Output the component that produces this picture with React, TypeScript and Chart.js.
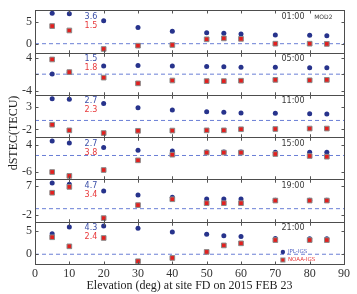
import React, { useEffect, useRef } from "react";
import { Chart, registerables } from "chart.js";

Chart.register(...registerables);

const elevations = [5, 10, 20, 30, 40, 50, 55, 60, 70, 80, 85];
const panelTimes = ["01:00", "05:00", "11:00", "15:00", "19:00", "21:00"];

const jpl0100 = [6.9, 6.8, 5.2, 3.7, 2.8, 2.5, 2.35, 2.2, 2.0, 1.9, 1.8];
const noaa0100 = [4.0, 3.0, -1.2, -0.45, -0.3, 1.0, 1.2, 1.1, 0.0, 0.0, -0.05];
const jpl0500 = [0.05, 0.45, 2.0, 2.1, 2.0, 1.85, 1.8, 1.7, 1.7, 1.55, 1.55];
const noaa0500 = [3.6, 0.5, -0.85, -2.25, -1.55, -1.7, -1.7, -1.6, -1.4, -1.5, -1.4];
const jpl1100 = [4.8, 4.7, 3.75, 2.8, 2.3, 1.95, 1.8, 1.65, 1.6, 1.5, 1.45];
const noaa1100 = [-0.95, -2.2, -2.8, -2.3, -2.25, -2.2, -2.2, -1.95, -1.9, -1.8, -1.8];
const jpl1500 = [5.4, 4.65, 2.95, 2.0, 1.65, 1.3, 1.3, 1.3, 1.25, 1.25, 1.25];
const noaa1500 = [-6.15, -7.6, -5.4, -1.8, 0.3, 1.1, 1.1, 1.1, 0.55, -0.2, -0.45];
const jpl1900 = [7.9, 7.5, 5.4, 4.2, 3.5, 3.0, 3.0, 3.0, 2.6, 2.6, 2.6];
const noaa1900 = [4.9, 6.7, -2.9, 1.1, 2.9, 1.7, 1.7, 1.7, 2.5, 2.5, 2.5];
const jpl2100 = [4.4, 5.85, 6.1, 5.6, 4.8, 4.3, 4.0, 3.8, 3.4, 3.35, 3.35];
const noaa2100 = [3.65, 1.7, 3.5, -1.5, -0.8, 0.5, 1.9, 2.35, 3.05, 3.05, 3.05];

const jplSeries = [jpl0100, jpl0500, jpl1100, jpl1500, jpl1900, jpl2100];
const noaaSeries = [noaa0100, noaa0500, noaa1100, noaa1500, noaa1900, noaa2100];

const jplLabels = ["3.6", "1.5", "2.7", "2.7", "4.7", "4.3"];
const noaaLabels = ["1.5", "1.8", "2.3", "3.8", "3.4", "2.4"];

const yMins = [-2.0, -5.05, -3.7, -8.9, -4.0, -2.1];
const yMaxs = [7.6, 5.3, 5.7, 6.85, 9.0, 7.0];
const yTickSets = [[0, 5], [-4, 0, 4], [-2, 3], [-6, 4], [-2, 7], [0, 5]];

const xTicks = [0, 10, 20, 30, 40, 50, 60, 70, 80, 90];
const zeroLine = [0, 90];

const BLUE = "#27338c";
const RED = "#e3201f";
const SERIF = "'Liberation Serif', 'Times New Roman', serif";
const SANS = "'DejaVu Sans', sans-serif";

const ids = panelTimes.map((_, i) => "y" + i);

const decorPlugin = {
  id: "decor",
  afterDraw(chart: any) {
    const ctx = chart.ctx;
    const xs = chart.scales.x;
    const ca = chart.chartArea;
    ctx.save();
    ids.forEach((id, i) => {
      const ys = chart.scales[id];
      const top = Math.round(ys.top) + 0.5;
      const bottom = Math.round(ys.bottom) + 0.5;
      const left = Math.round(ca.left) + 0.5;
      const right = Math.round(ca.right) + 0.5;
      ctx.strokeStyle = "#4d4d4d";
      ctx.lineWidth = 1;
      ctx.strokeRect(left, top, right - left, bottom - top);
      // x tick marks
      ctx.strokeStyle = "#555";
      ctx.beginPath();
      xTicks.forEach((v) => {
        const px = Math.round(xs.getPixelForValue(v)) + 0.5;
        if (v === 0 || v === 90) return;
        ctx.moveTo(px, top - (i === 0 ? 0 : 3));
        ctx.lineTo(px, top + 3);
        ctx.moveTo(px, bottom - 3);
        ctx.lineTo(px, bottom + (i === ids.length - 1 ? 0 : 3));
      });
      yTickSets[i].forEach((v) => {
        const py = Math.round(ys.getPixelForValue(v)) + 0.5;
        ctx.moveTo(left, py);
        ctx.lineTo(left + 3, py);
        ctx.moveTo(right, py);
        ctx.lineTo(right - 3, py);
      });
      ctx.stroke();

      // value labels
      const lx = xs.getPixelForValue(16.3);
      ctx.font = "8px " + SANS;
      ctx.textAlign = "center";
      ctx.textBaseline = "middle";
      ctx.fillStyle = "#3b4fa8";
      ctx.fillText(jplLabels[i], lx, ys.top + 6.5);
      ctx.fillStyle = "#e8383a";
      ctx.fillText(noaaLabels[i], lx, ys.top + 15.5);

      // time labels
      ctx.fillStyle = "#3a3a3a";
      ctx.font = "8px " + SANS;
      ctx.textAlign = "right";
      ctx.fillText(panelTimes[i], xs.getPixelForValue(78.5), ys.top + 6.5);
      if (i === 0) {
        ctx.font = "6px " + SANS;
        ctx.textAlign = "left";
        ctx.fillText("MOD2", xs.getPixelForValue(81.3), ys.top + 7);
      }
    });

    // legend in last panel
    const lastY = chart.scales[ids[ids.length - 1]];
    const mx = xs.getPixelForValue(72.2);
    const r1 = lastY.bottom - 12;
    const r2 = lastY.bottom - 4;
    ctx.fillStyle = BLUE;
    ctx.beginPath();
    ctx.arc(mx, r1, 2.2, 0, Math.PI * 2);
    ctx.fill();
    ctx.fillStyle = RED;
    ctx.fillRect(mx - 2, r2 - 2, 4, 4);
    ctx.strokeStyle = "#888";
    ctx.strokeRect(mx - 2, r2 - 2, 4, 4);
    ctx.font = "5.5px " + SANS;
    ctx.textAlign = "left";
    ctx.textBaseline = "middle";
    ctx.fillStyle = "#5566c4";
    ctx.fillText("JPL-IGS", mx + 5, r1);
    ctx.fillStyle = "#e8383a";
    ctx.fillText("NOAA-IGS", mx + 5, r2);

    // y title
    ctx.translate(14, 133);
    ctx.rotate(-Math.PI / 2);
    ctx.font = "12px " + SERIF;
    ctx.fillStyle = "#222";
    ctx.textAlign = "center";
    ctx.textBaseline = "middle";
    ctx.fillText("dSTEC(TECU)", 0, 0);
    ctx.restore();
  },
};

export default function App() {
  const ref = useRef<HTMLCanvasElement | null>(null);
  useEffect(() => {
    if (!ref.current) return;
    const datasets: any[] = [];
    const scales: any = {
      x: {
        type: "linear",
        min: 0,
        max: 90,
        afterBuildTicks: (s: any) => {
          s.ticks = xTicks.map((v) => ({ value: v }));
        },
        afterFit: (s: any) => {
          s.height = 30;
        },
        grid: { display: false, drawTicks: false },
        border: { display: false },
        ticks: {
          padding: 3,
          color: "#333",
          font: { family: SERIF, size: 12 },
        },
        title: {
          display: true,
          text: "Elevation (deg) at site FD on 2015 FEB 23",
          color: "#222",
          font: { family: SERIF, size: 12 },
          padding: { top: 0, bottom: 1 },
        },
      },
    };
    ids.forEach((id, i) => {
      scales[id] = {
        type: "linear",
        position: "left",
        stack: "panels",
        stackWeight: 1,
        weight: ids.length - i,
        min: yMins[i],
        max: yMaxs[i],
        afterBuildTicks: (s: any) => {
          s.ticks = yTickSets[i].map((v) => ({ value: v }));
        },
        afterFit: (s: any) => {
          s.width = 35;
        },
        grid: { display: false, drawTicks: false },
        border: { display: false },
        ticks: {
          padding: 3,
          color: "#333",
          font: { family: SERIF, size: 12 },
        },
      };
      datasets.push({
        label: "NOAA-IGS " + panelTimes[i],
        data: elevations.map((x, k) => ({ x, y: noaaSeries[i][k] })),
        yAxisID: id,
        pointStyle: "rect",
        pointRadius: 3.3,
        backgroundColor: RED,
        borderColor: "#8a8a8a",
        borderWidth: 1,
        order: 0,
      });
      datasets.push({
        label: "JPL-IGS " + panelTimes[i],
        data: elevations.map((x, k) => ({ x, y: jplSeries[i][k] })),
        yAxisID: id,
        pointStyle: "circle",
        pointRadius: 2.5,
        backgroundColor: BLUE,
        borderColor: BLUE,
        borderWidth: 0,
        order: 1,
      });
      datasets.push({
        label: "zero " + panelTimes[i],
        data: zeroLine.map((x) => ({ x, y: 0 })),
        yAxisID: id,
        showLine: true,
        pointRadius: 0,
        borderColor: "#6a7fd6",
        borderWidth: 1,
        borderDash: [4, 3],
        order: 2,
      });
    });

    const chart = new Chart(ref.current, {
      type: "scatter",
      data: { datasets },
      options: {
        animation: false,
        responsive: false,
        devicePixelRatio: 1,
        events: [],
        layout: { padding: { top: 5, right: 13, left: 0, bottom: 0 } },
        plugins: { legend: { display: false }, tooltip: { enabled: false } },
        scales,
      },
      plugins: [decorPlugin],
    } as any);
    return () => chart.destroy();
  }, []);
  return (
    <div style={{ position: "fixed", left: 0, top: 0, width: 357, height: 294, background: "#fff" }}>
      <canvas ref={ref} width={357} height={294} style={{ display: "block" }} />
    </div>
  );
}
